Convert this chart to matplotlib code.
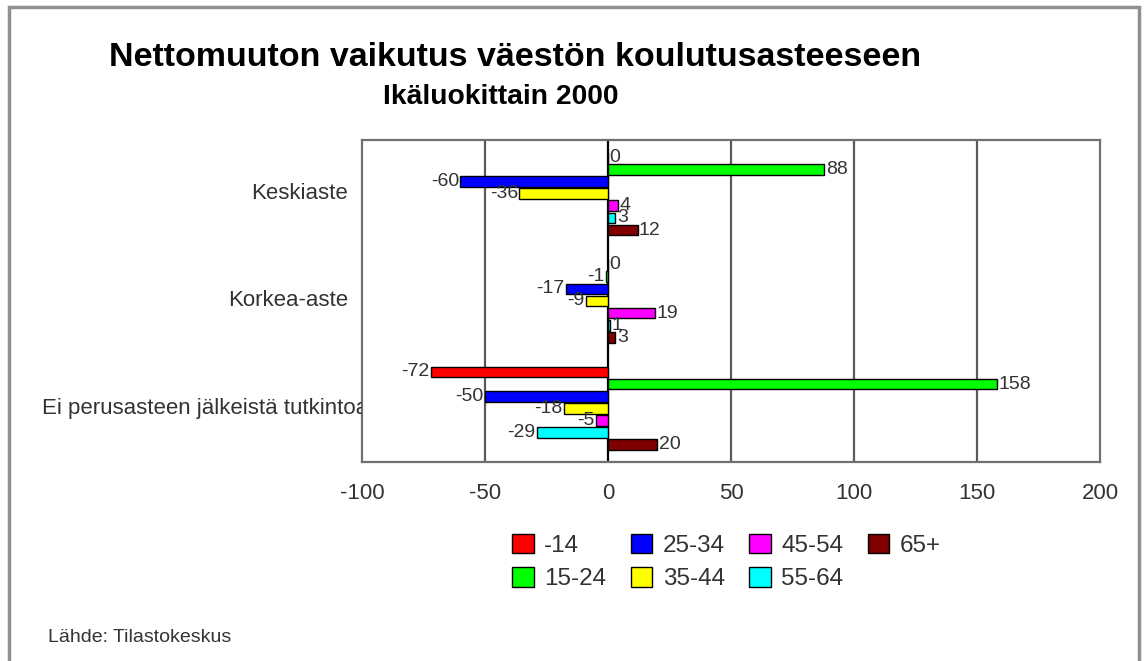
import numpy as np
import matplotlib
matplotlib.use("Agg")
import matplotlib.pyplot as plt
from matplotlib.patches import Rectangle
from matplotlib.transforms import Bbox, TransformedBbox, blended_transform_factory

plt.rcParams['font.family'] = ['Liberation Sans', 'DejaVu Sans']

# Data
categories = ['Keskiaste', 'Korkea-aste', 'Ei perusasteen jälkeistä tutkintoa']
series = ['-14', '15-24', '25-34', '35-44', '45-54', '55-64', '65+']
v_m14 = [0, 0, -72]
v_15_24 = [88, -1, 158]
v_25_34 = [-60, -17, -50]
v_35_44 = [-36, -9, -18]
v_45_54 = [4, 19, -5]
v_55_64 = [3, 1, -29]
v_65 = [12, 3, 20]
values = [v_m14, v_15_24, v_25_34, v_35_44, v_45_54, v_55_64, v_65]
colors = ['#ff0000', '#00ff00', '#0000ff', '#ffff00', '#ff00ff', '#00ffff', '#800000']
xticks = [-100, -50, 0, 50, 100, 150, 200]

W, H = 1147, 661
fig = plt.figure(figsize=(W / 100, H / 100), dpi=100)
fig.patch.set_facecolor('white')

# outer border
fig.patches.append(Rectangle((9 / W, -0.01), (1139 - 9) / W, 1.01 - 7 / H,
                             transform=fig.transFigure, fill=False,
                             edgecolor='#909090', linewidth=2.5))

ax = fig.add_axes([362 / W, 1 - 462 / H, (1100 - 362) / W, (462 - 140) / H])

y = np.arange(len(categories))
step = 0.113
h = 0.10
for i, (name, vals, c) in enumerate(zip(series, values, colors)):
    pos = y + (i - 3) * step
    ax.barh(pos, vals, height=h, color=c, edgecolor='black', linewidth=1,
            label=name, zorder=3)
    for p, v in zip(pos, vals):
        if v >= 0:
            ax.text(v + 0.6, p, str(v), ha='left', va='center',
                    fontsize=14, color='#333333', zorder=4)
        else:
            ax.text(v - 0.6, p, str(v), ha='right', va='center',
                    fontsize=14, color='#333333', zorder=4)

ax.set_xlim(-100, 200)
ax.set_ylim(2.5, -0.5)
ax.set_xticks(xticks)
ax.set_xticklabels([str(t) for t in xticks], fontsize=16, color='#333333')
ax.tick_params(axis='x', length=0, pad=15)
ax.set_yticks([])
for t in xticks[1:-1]:
    ax.axvline(t, color='#5a5a5a' if t != 0 else 'black', linewidth=1.6, zorder=1)
for s in ax.spines.values():
    s.set_color('#707070')
    s.set_linewidth(1.6)

# category labels (the long one runs under the plot edge and is cut there)
tr = blended_transform_factory(fig.transFigure, ax.transData)
clip = TransformedBbox(Bbox([[0, 0], [362 / W, 1]]), fig.transFigure)
for yi, cat in zip(y, categories):
    x_end = 368 if len(cat) > 20 else 348
    t = ax.text(x_end / W, yi, cat, ha='right', va='center', fontsize=16,
                color='#333333', transform=tr)
    t.set_clip_on(True)
    t.set_clip_box(clip)

fig.text(515 / W, 1 - 58 / H, 'Nettomuuton vaikutus väestön koulutusasteeseen',
         ha='center', va='center', fontsize=24.5, fontweight='bold')
fig.text(383 / W, 1 - 97 / H, 'Ikäluokittain 2000', ha='left', va='center',
         fontsize=20.3, fontweight='bold')
fig.text(48 / W, 1 - 637 / H, 'Lähde: Tilastokeskus', ha='left', va='center',
         fontsize=14, color='#333333')

leg = fig.legend(loc='upper left', bbox_to_anchor=(512 / W, 1 - 534 / H), ncol=4,
                 frameon=False, fontsize=17.5, handlelength=0.9, handleheight=0.85,
                 columnspacing=1.0, handletextpad=0.42, labelspacing=0.42,
                 borderpad=0, borderaxespad=0)
for txt in leg.get_texts():
    txt.set_color('#333333')

fig.savefig('out.png', dpi=100)
